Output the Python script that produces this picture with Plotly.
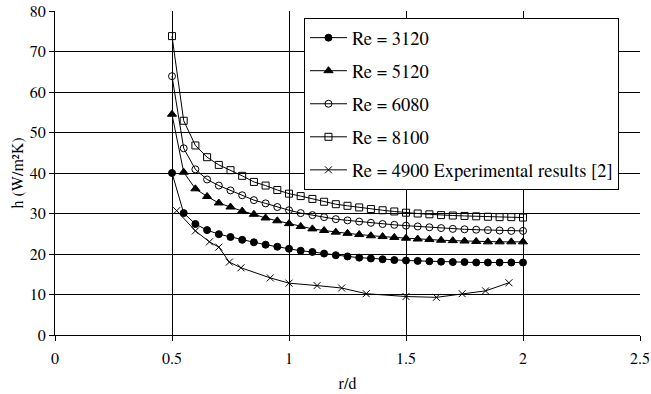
import plotly.graph_objects as go

x_num = [0.50, 0.55, 0.60, 0.65, 0.70, 0.75, 0.80, 0.85, 0.90, 0.95,
         1.00, 1.05, 1.10, 1.15, 1.20, 1.25, 1.30, 1.35, 1.40, 1.45,
         1.50, 1.55, 1.60, 1.65, 1.70, 1.75, 1.80, 1.85, 1.90, 1.95, 2.00]

h_3120 = [40.0, 30.1, 27.4, 25.9, 24.9, 24.2, 23.5, 22.9, 22.3, 21.8,
          21.3, 20.8, 20.5, 20.1, 19.7, 19.4, 19.1, 18.9, 18.7, 18.5,
          18.4, 18.3, 18.2, 18.1, 18.0, 18.0, 17.9, 17.9, 17.9, 17.9, 17.9]
h_5120 = [54.5, 40.2, 36.1, 34.2, 32.6, 31.6, 30.6, 29.8, 28.9, 28.2,
          27.5, 26.8, 26.2, 25.8, 25.4, 25.1, 24.8, 24.5, 24.3, 24.1,
          23.9, 23.7, 23.6, 23.4, 23.3, 23.2, 23.1, 23.0, 23.0, 23.0, 23.0]
h_6080 = [63.9, 46.1, 40.9, 38.4, 36.9, 35.7, 34.5, 33.3, 32.5, 31.6,
          30.8, 30.1, 29.6, 29.1, 28.6, 28.3, 28.0, 27.7, 27.4, 27.2,
          27.0, 26.8, 26.6, 26.4, 26.2, 26.1, 26.0, 25.9, 25.8, 25.7, 25.7]
h_8100 = [73.8, 52.9, 46.8, 43.9, 42.0, 40.7, 39.3, 37.8, 36.9, 35.8,
          34.9, 34.3, 33.6, 32.9, 32.3, 31.9, 31.5, 31.1, 30.8, 30.5,
          30.2, 30.0, 29.8, 29.6, 29.5, 29.4, 29.3, 29.2, 29.1, 29.1, 29.0]

x_exp = [0.52, 0.60, 0.66, 0.70, 0.745, 0.795, 0.92, 1.00, 1.12, 1.225,
         1.33, 1.50, 1.63, 1.74, 1.84, 1.94]
h_exp = [30.7, 25.7, 23.0, 21.7, 18.0, 16.6, 14.1, 12.8, 12.2, 11.6,
         10.2, 9.5, 9.3, 10.2, 10.9, 12.9]

series_names = ["Re = 3120", "Re = 5120", "Re = 6080", "Re = 8100",
                "Re = 4900 Experimental results [2]"]

FONT = "TeX Gyre Termes, Liberation Serif, Tinos, STIX Two Text, Times New Roman, DejaVu Serif, serif"

fig = go.Figure()
specs = [
    (x_num, h_3120, series_names[0], "circle", 7),
    (x_num, h_5120, series_names[1], "triangle-up", 8),
    (x_num, h_6080, series_names[2], "circle-open", 7),
    (x_num, h_8100, series_names[3], "square-open", 7),
    (x_exp, h_exp, series_names[4], "x-thin-open", 7),
]
for i, (xs, ys, name, sym, size) in enumerate(specs):
    fig.add_trace(go.Scatter(
        x=xs, y=ys, name=name, mode="lines+markers",
        line=dict(color="black", width=1),
        marker=dict(symbol=sym, size=size, color="black",
                    line=dict(color="black", width=1)),
        legendgroup=f"g{i}",
    ))

fig.update_layout(
    width=651, height=394,
    margin=dict(l=55, r=11, t=11, b=59),
    paper_bgcolor="white", plot_bgcolor="white",
    font=dict(family=FONT, size=16, color="black"),
    showlegend=True,
    legend=dict(
        x=0.4256, y=0.978, xanchor="left", yanchor="top",
        bgcolor="white", bordercolor="black", borderwidth=1,
        font=dict(family=FONT, size=18.5, color="black"),
        tracegroupgap=6, traceorder="grouped", itemwidth=37,
    ),
    xaxis=dict(
        range=[0, 2.5], dtick=0.5, tick0=0, automargin=False,
        showgrid=True, gridcolor="black", gridwidth=1,
        showline=True, linecolor="black", linewidth=1,
        ticks="outside", ticklen=5, tickcolor="black",
        zeroline=False, mirror=False, ticklabelstandoff=4,
        ticklabeloverflow="allow",
        title=dict(text="r/d", font=dict(family=FONT, size=16), standoff=10),
        tickfont=dict(family=FONT, size=16),
    ),
    yaxis=dict(
        range=[0, 80], dtick=10, tick0=0, automargin=False,
        showgrid=True, gridcolor="black", gridwidth=1,
        showline=True, linecolor="black", linewidth=1,
        ticks="outside", ticklen=5, tickcolor="black",
        zeroline=False, ticklabeloverflow="allow",
        title=dict(text="h (W/m²K)", font=dict(family=FONT, size=16), standoff=2),
        tickfont=dict(family=FONT, size=16),
    ),
)

fig.write_html("out.html", post_script="document.body.style.margin='0';",
               config={"displayModeBar": False})
